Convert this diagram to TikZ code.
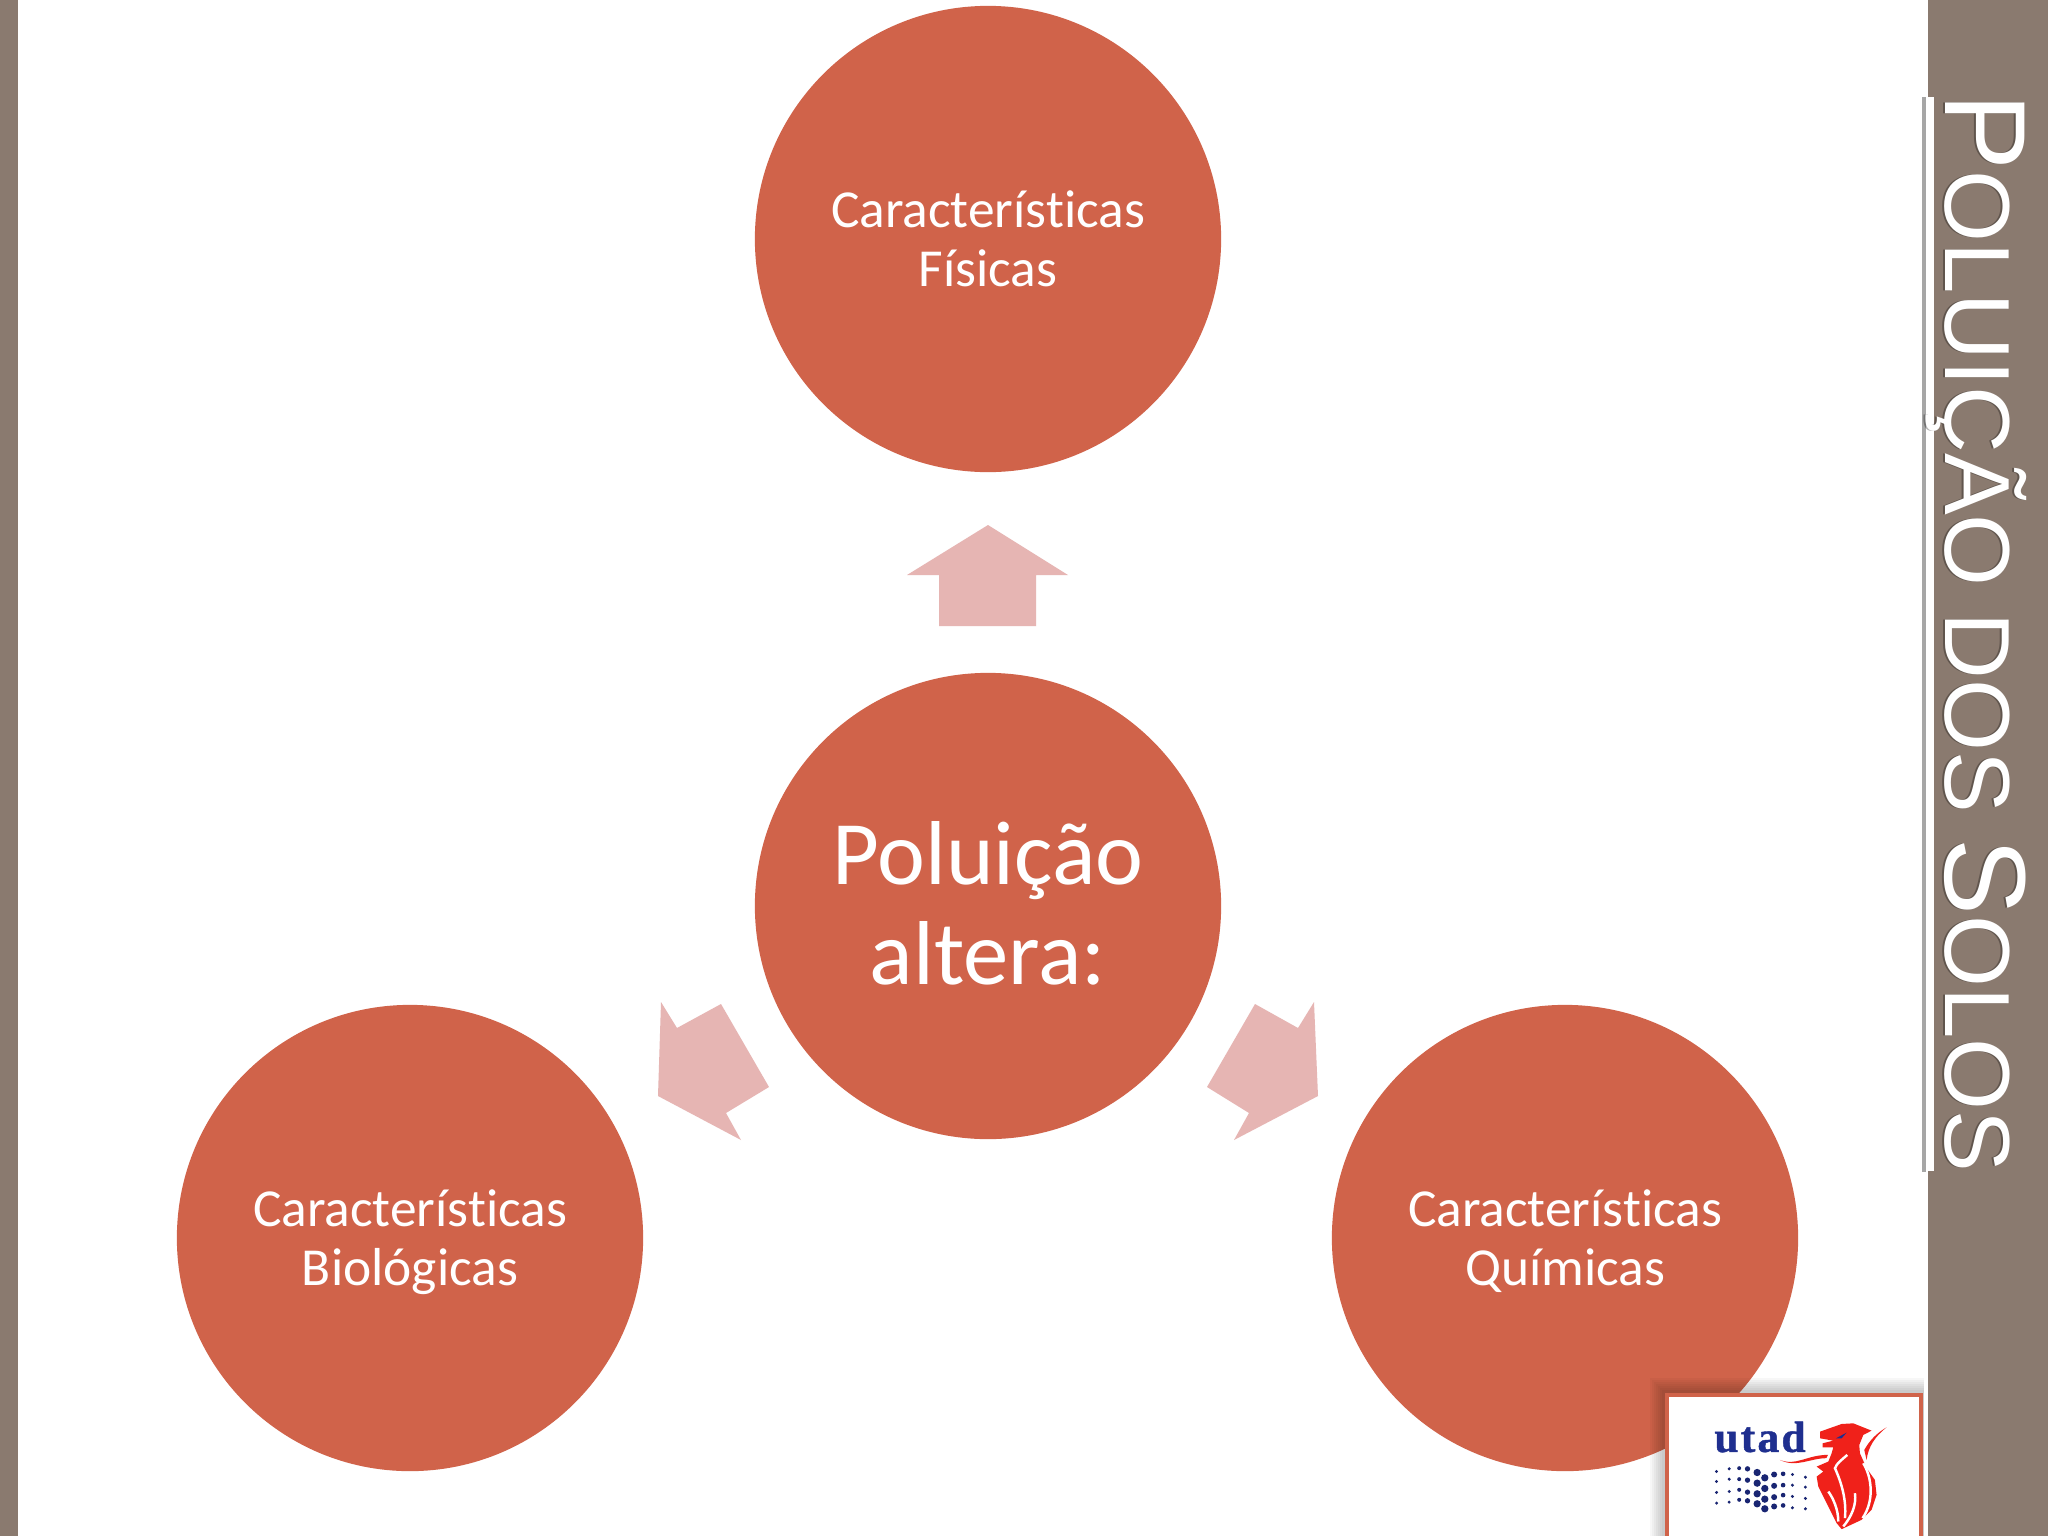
\documentclass[tikz,border=0pt]{standalone}
\usepackage{fontspec}
\setmainfont{Carlito}[Ligatures=NoCommon]
\newfontfamily\titlefont{Liberation Sans}
\newfontfamily\utadfont{Liberation Serif}[LetterSpace=5,BoldFeatures={FakeBold=1}]
\usepackage{xcolor}
\definecolor{sidebrown}{HTML}{8A7A6F}
\definecolor{discred}{HTML}{D0634A}
\definecolor{arrowpink}{HTML}{E6B5B3}
\definecolor{utadblue}{HTML}{1F2F8F}
\definecolor{lionred}{HTML}{F0211A}
\newcommand{\capletter}[1]{{\fontsize{32.8}{33}\selectfont #1}}
\newcommand{\titletext}{\titlefont\fontsize{26.3}{26.5}\selectfont\capletter{P}OLUIÇÃO DOS \capletter{S}OLOS}
\newcommand{\smalltop}{\rule{0pt}{15.3pt}}
\newcommand{\largetop}{\rule{0pt}{24.5pt}}
\begin{document}
\begin{tikzpicture}[x=0.01cm,y=-0.01cm,
  disc/.style={circle,fill=discred,minimum size=4.66cm,inner sep=0pt,text=white,align=center},
  small/.style={disc,font=\fontsize{15.2}{17}\selectfont},
  large/.style={disc,font=\fontsize{25.8}{28.4}\selectfont},
  blockarrow/.style={fill=arrowpink},
  band/.style={fill=sidebrown},
  streak/.style={white,line width=0.7pt}]
\useasboundingbox (0,0) rectangle (2048,1536);
\clip (0,0) rectangle (2048,1536);
\fill[white] (0,0) rectangle (2048,1536);
\fill[band] (0,0) rectangle (18,1536);
\fill[band] (1928,0) rectangle (2048,1536);
% circles
\node[small] (fisicas) at (988,239) {\smalltop Características\\Físicas\strut};
\node[large] (poluicao) at (988,906) {\largetop Poluição\\altera:\strut};
\node[small] (biologicas) at (410,1238) {\smalltop Características\\Biológicas\strut};
\node[small] (quimicas) at (1565,1238) {\smalltop Características\\Químicas\strut};
% arrows
\fill[blockarrow] (988,525) -- (1068,575) -- (1036,575) -- (1036,626) -- (939,626) -- (939,575) -- (907,575) -- cycle;
\fill[blockarrow] (661,1002) -- (677,1028) -- (721,1004) -- (769,1087) -- (726,1113) -- (741,1140) -- (658,1096) -- cycle;
\fill[blockarrow] (1314,1002) -- (1298,1028) -- (1255,1004) -- (1207,1087) -- (1249,1113) -- (1234,1140) -- (1318,1096) -- cycle;
% title
\fill[black!35] (1922,97) rectangle (1926,1172);
\fill[white] (1926,97) rectangle (1934,1171);
\node[rotate=-90,black,opacity=0.3,inner sep=0pt,anchor=base] (titleshadow) at (1943,633) {\titletext};
\node[rotate=-90,white,inner sep=0pt,anchor=base] (title) at (1945,633) {\titletext};
% logo
\foreach \d in {2,4,...,14} {
  \fill[black,opacity=0.03] (1664-\d,1392-\d) rectangle (1924,1536);
}
\fill[white,draw=discred,line width=1.4pt] (1667,1395) rectangle (1921,1546);
\node[font=\fontsize{12.4}{12}\selectfont,text=utadblue,inner sep=0pt] (utad) at (1760,1437) {\utadfont\bfseries utad};
\begin{scope}[shift={(1640,1360)},x=0.003333cm,y=-0.003333cm]
\foreach \x/\r/\ya/\yb/\yc/\yd in {230/5/335/365/398/430,268/5/327/358/395/427,298/6/325/358/390/420,323/8/327/361/397/423,352/11/338/370/402/432,375/11/354/386/418/447,403/9/344/378/412/440,430/7/342/376/406/437,458/5/344/376/410/444,497/5/352/382/416/447} {
  \foreach \y in {\ya,\yb,\yc,\yd} {
    \fill[utadblue!80!black] (\x,\y) circle (\r);
  }
}
\fill[lionred] (420,300) .. controls (470,320) and (500,285) .. (565,285) -- (560,295) .. controls (510,295) and (470,325) .. cycle;
\end{scope}
\begin{scope}[shift={(1810,1410)},x=0.003333cm,y=-0.003333cm]
\fill[lionred] (30,65) -- (95,42) -- (130,40) -- (185,62) -- (160,75) -- (148,105) -- (150,130) -- (170,175) -- (195,210) -- (200,255) -- (185,300) -- (155,330) -- (95,358) -- (80,340) -- (50,280) -- (25,230) -- (20,200) -- (40,185) -- (20,170) -- (55,155) -- (65,130) -- (70,112) -- (38,112) -- (38,100) -- (70,92) -- (30,85) -- cycle;
\fill[lionred] (230,52) .. controls (195,80) and (175,110) .. (170,150) -- (163,120) .. controls (180,90) and (200,70) .. cycle;
\fill[utadblue] (78,85) -- (110,68) -- (95,85) -- cycle;
\draw[streak] (112,135) .. controls (95,150) and (80,160) .. (75,175) .. controls (95,220) and (110,270) .. (105,325);
\draw[streak] (135,250) .. controls (140,285) and (125,320) .. (100,350);
\draw[streak] (55,245) .. controls (70,265) and (85,300) .. (85,335);
\draw[streak] (160,160) .. controls (185,200) and (195,270) .. (158,325);
\end{scope}
\end{tikzpicture}
\end{document}
